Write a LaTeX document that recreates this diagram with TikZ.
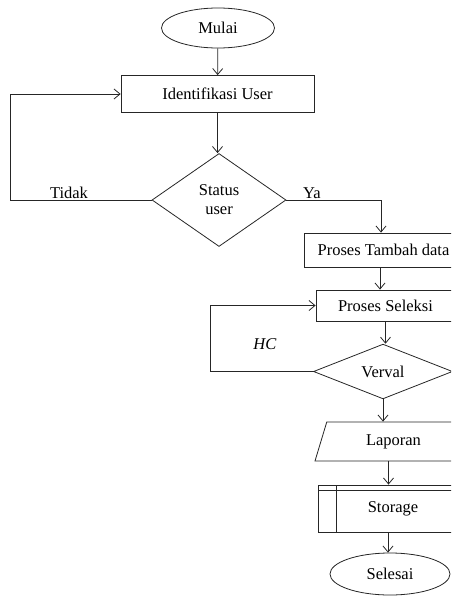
\documentclass[tikz,border=0pt]{standalone}
\usepackage{fontspec}
\setmainfont{Liberation Serif}
\usetikzlibrary{arrows.meta}
\usetikzlibrary{calc}
\usetikzlibrary{shapes.geometric}
\tikzset{>={Straight Barb[length=6pt,width=10pt]}}
\tikzstyle{flowline}=[draw=black!85,line width=0.8pt]
\tikzstyle{procbox}=[draw=black!85,line width=0.8pt,rectangle,inner sep=0pt]
\tikzstyle{termbox}=[draw=black!85,line width=0.8pt,ellipse,inner sep=0pt]
\tikzstyle{decbox}=[draw=black!85,line width=0.8pt,diamond,inner sep=0pt,align=center]
\tikzstyle{iobox}=[draw=black!85,line width=0.8pt,trapezium,trapezium left angle=50.6,trapezium right angle=129.4,trapezium stretches body=true,inner sep=0pt]
\tikzstyle{storebox}=[procbox,path picture={
    \draw[black!85,line width=0.8pt] ([xshift=18pt]path picture bounding box.north west) -- ([xshift=18pt]path picture bounding box.south west);
    \draw[black!85,line width=0.8pt] ([yshift=-5pt]path picture bounding box.north west) -- ([yshift=-5pt]path picture bounding box.north east);}]

\begin{document}
\begin{tikzpicture}[x=1pt,y=-1pt,font=\fontsize{16.5}{19}\selectfont]
    \useasboundingbox (0,0) rectangle (451,597);
    \clip (0,0) rectangle (451,597);

    \node[termbox,minimum width=113,minimum height=40] (mulai) at (218,28) {Mulai};
    \node[procbox,minimum width=193,minimum height=37] (ident) at (217.5,94) {Identifikasi User};
    \node[decbox,minimum width=134,minimum height=93] (status) at (219,200) {Status\\user};
    \node[procbox,minimum width=159,minimum height=34] (tambah) at (383.5,250) {Proses Tambah data};
    \node[procbox,minimum width=139,minimum height=31] (seleksi) at (385.5,305.5) {Proses Seleksi};
    \node[decbox,minimum width=139,minimum height=53] (verval) at (383,371.5) {Verval};
    \node[iobox,minimum width=157,minimum height=39] (laporan) at (393.5,441.5) {Laporan};
    \node[storebox,minimum width=150,minimum height=47] (storage) at (393,508.5) {Storage};
    \node[termbox,minimum width=120,minimum height=42] (selesai) at (390,574) {Selesai};

    \node (tidak) at (69,193) {Tidak};
    \node (ya) at (312,193) {Ya};
    \node (hc) at (265,344) {\textit{HC}};

    \draw[flowline,->] (mulai) -- (ident);
    \draw[flowline,->] (ident.south) -- (ident.south |- status.north);
    \draw[flowline,->] (status.west) -- ++(-141,0) |- (ident.west);
    \draw[flowline,->] (status.east) -| ([xshift=-2.5pt]tambah.north);
    \draw[flowline,->] ([xshift=-3.5pt]tambah.south) -- ([xshift=-3.5pt]tambah.south |- seleksi.north);
    \draw[flowline,->] (seleksi.south) -- (seleksi.south |- verval.north);
    \draw[flowline,->] (verval.west) -- ++(-103,0) |- (seleksi.west);
    \draw[flowline,->] (verval.south) -- (verval.south |- laporan.north);
    \draw[flowline,->] ([xshift=-5pt]laporan.south) -- ([xshift=-5pt]laporan.south |- storage.north);
    \draw[flowline,->] ([xshift=-5pt]storage.south) -- ([xshift=-5pt]storage.south |- selesai.north);
\end{tikzpicture}
\end{document}
